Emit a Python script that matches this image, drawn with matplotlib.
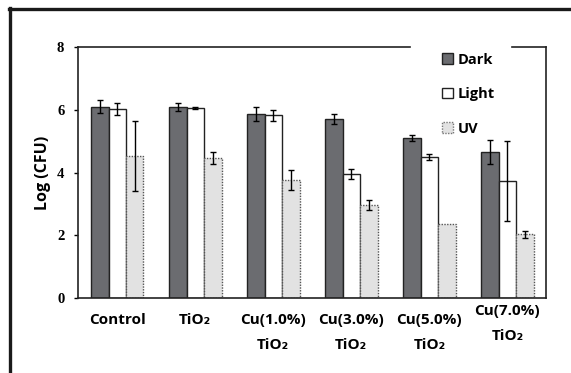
import numpy as np
import matplotlib
matplotlib.use("Agg")
import matplotlib.pyplot as plt
from matplotlib.patches import Patch
from matplotlib.lines import Line2D

# data
groups = ["Control", "TiO₂", "Cu(1.0%)\nTiO₂", "Cu(3.0%)\nTiO₂", "Cu(5.0%)\nTiO₂", "Cu(7.0%)\nTiO₂"]
dark = [6.10, 6.10, 5.88, 5.72, 5.11, 4.65]
dark_err = [0.21, 0.13, 0.22, 0.15, 0.10, 0.38]
light = [6.03, 6.06, 5.83, 3.96, 4.50, 3.73]
light_err = [0.20, 0.03, 0.17, 0.17, 0.10, 1.28]
uv = [4.52, 4.46, 3.77, 2.97, 2.37, 2.03]
uv_err = [1.12, 0.19, 0.31, 0.15, 0.0, 0.12]
yticks = [0, 2, 4, 6, 8]

sans = ["Open Sans", "DejaVu Sans"]

fig = plt.figure(figsize=(5.71, 3.73), dpi=100)
ax = fig.add_axes([0.137, 0.201, 0.820, 0.672])

x = np.arange(len(groups))
w = 0.224
ekw = dict(ecolor="black", elinewidth=1.0, capsize=2.2, capthick=1.0)

ax.bar(x - w, dark, w, color="#6b6c70", edgecolor="#222222", linewidth=1.0,
       yerr=dark_err, error_kw=ekw, zorder=2)
ax.bar(x, light, w, color="white", edgecolor="#222222", linewidth=1.0,
       yerr=light_err, error_kw=ekw, zorder=2)
uv_yerr = [e if e > 0 else np.nan for e in uv_err]
ax.bar(x + w, uv, w, color="#e2e2e2", edgecolor="#555555", linewidth=1.0,
       linestyle=(0, (1, 1)), yerr=uv_yerr, error_kw=ekw, zorder=2)

ax.set_xlim(-0.5, len(groups) - 0.5)
ax.set_ylim(0, 8)
ax.set_yticks(yticks)
ax.set_yticklabels([str(t) for t in yticks], fontfamily="Liberation Serif",
                   fontweight="bold", fontsize=10.5)
ax.tick_params(axis="y", direction="out", length=3, width=1, pad=7)
ax.set_xticks([])

for s in ["left", "bottom", "right"]:
    ax.spines[s].set_linewidth(1.2)
    ax.spines[s].set_color("#222222")
ax.spines["top"].set_visible(False)
# top frame line with a gap for the legend
ax.add_line(Line2D([0, 0.708], [1, 1], transform=ax.transAxes, color="#222222",
                   lw=1.2, clip_on=False))
ax.add_line(Line2D([0.926, 1], [1, 1], transform=ax.transAxes, color="#222222",
                   lw=1.2, clip_on=False))

ax.set_ylabel("Log (CFU)", fontfamily=sans, fontweight="bold", fontsize=11.5, labelpad=4)

# category labels
for i, g in enumerate(groups):
    yoff = -0.025 if i == len(groups) - 1 else -0.06
    ax.text(i, yoff, g, transform=ax.get_xaxis_transform(), ha="center", va="top",
            fontfamily=sans, fontweight="bold", fontsize=11, linespacing=1.95)

handles = [Patch(facecolor="#6b6c70", edgecolor="#222222", lw=1.0),
           Patch(facecolor="white", edgecolor="#222222", lw=1.0),
           Patch(facecolor="#e2e2e2", edgecolor="#777777", lw=1.0, linestyle=(0, (1, 1)))]
leg = fig.legend(handles, ["Dark", "Light", "UV"], loc="upper left",
                 bbox_to_anchor=(0.762, 0.878), frameon=False,
                 prop={"family": sans, "weight": "bold", "size": 10.5},
                 handlelength=0.75, handleheight=0.75, handletextpad=0.3,
                 labelspacing=1.4, borderpad=0)

# outer frame (top and left border of the picture)
fig.add_artist(Line2D([0.016, 1.0], [0.977, 0.977], transform=fig.transFigure,
                      color="#1a1a1a", lw=2.4))
fig.add_artist(Line2D([0.018, 0.018], [0.0, 0.979], transform=fig.transFigure,
                      color="#1a1a1a", lw=2.4))

fig.savefig("out.png", dpi=100)
